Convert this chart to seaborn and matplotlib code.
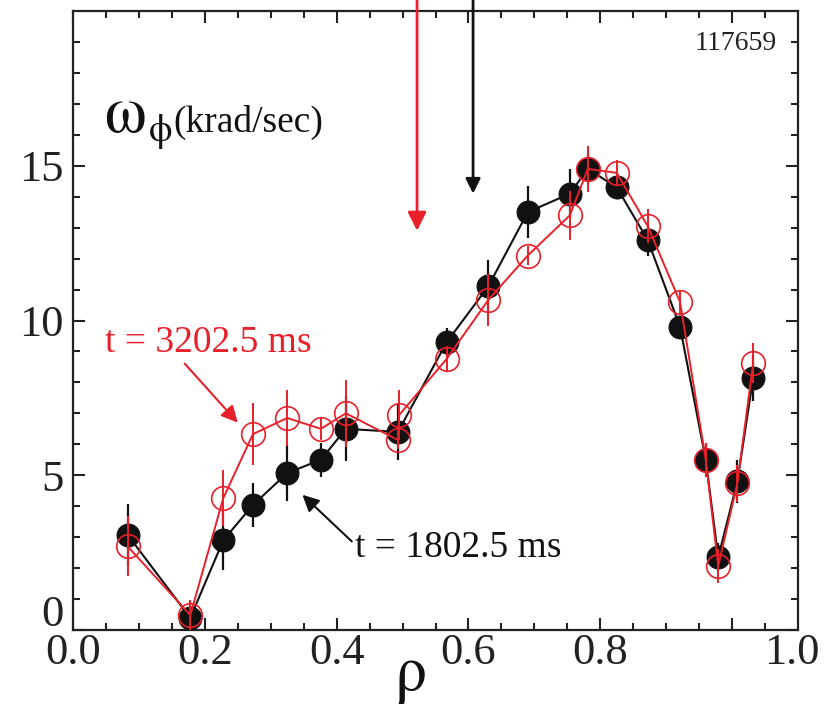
# -*- coding: utf-8 -*-
"""
Toroidal rotation profiles, shot 117659
"""

import matplotlib
matplotlib.use('Agg')
import matplotlib.pyplot as plt
from matplotlib.transforms import ScaledTranslation
import numpy as np
import pandas as pd
import seaborn as sns

# t = 1802.5 ms (black, filled)
rho_1802 = [0.083, 0.178, 0.228, 0.273, 0.325, 0.376, 0.414, 0.493, 0.567, 0.630,
            0.690, 0.754, 0.781, 0.825, 0.872, 0.921, 0.960, 0.979, 1.008, 1.032]
omega_1802 = [3.07, 0.39, 2.90, 4.04, 5.07, 5.50, 6.50, 6.40, 9.30, 11.10,
              13.50, 14.10, 14.90, 14.30, 12.60, 9.80, 5.50, 2.35, 4.80, 8.15]
err_1802 = [1.00, 0.50, 0.95, 0.70, 0.90, 0.55, 1.05, 0.90, 0.45, 0.85,
            0.85, 0.80, 0.50, 0.30, 0.50, 0.30, 0.55, 0.45, 0.70, 0.75]

# t = 3202.5 ms (red, open)
rho_3202 = [0.083, 0.178, 0.228, 0.273, 0.325, 0.376, 0.414, 0.493, 0.495, 0.567,
            0.630, 0.690, 0.754, 0.781, 0.825, 0.872, 0.921, 0.960, 0.979, 1.008, 1.032]
omega_3202 = [2.70, 0.48, 4.26, 6.33, 6.85, 6.50, 7.00, 6.14, 6.95, 8.76,
              10.66, 12.10, 13.40, 14.90, 14.77, 13.05, 10.60, 5.50, 2.07, 4.74, 8.62]
err_3202 = [0.97, 0.50, 0.90, 1.00, 0.90, 0.35, 1.08, 0.30, 0.80, 0.40,
            0.85, 0.30, 0.80, 0.75, 0.40, 0.55, 0.40, 0.55, 0.55, 0.60, 0.65]

red = '#e8202a'


def main():
    sns.set_style('ticks')
    plt.rcParams['font.family'] = ['Liberation Serif', 'DejaVu Serif']
    plt.rcParams['mathtext.fontset'] = 'stix'

    df_a = pd.DataFrame({'rho': rho_1802, 'omega': omega_1802, 'err': err_1802})
    df_b = pd.DataFrame({'rho': rho_3202, 'omega': omega_3202, 'err': err_3202})

    fig = plt.figure(figsize=(8.26, 7.09), dpi=100)
    ax = fig.add_axes([73 / 826, 79 / 709, 725 / 826, 619 / 709])

    # black profile
    ax.errorbar(df_a['rho'], df_a['omega'], yerr=df_a['err'], fmt='none',
                ecolor='#111111', elinewidth=1.6, capsize=0, zorder=2)
    sns.lineplot(data=df_a, x='rho', y='omega', sort=False, color='#111111',
                 lw=1.5, marker='o', markersize=16.5, markeredgecolor='#111111',
                 ax=ax, zorder=3)

    # red profile
    sns.lineplot(data=df_b, x='rho', y='omega', sort=False, color=red,
                 lw=1.4, marker='o', markersize=17, markerfacecolor='none',
                 markeredgecolor=red, markeredgewidth=1.2, ax=ax, zorder=4)
    ax.errorbar(df_b['rho'], df_b['omega'], yerr=df_b['err'], fmt='none',
                ecolor=red, elinewidth=1.4, capsize=0, zorder=5)

    ax.set_xlim(0, 1.1)
    ax.set_ylim(0, 20)
    ax.set_xticks([0.0, 0.2, 0.4, 0.6, 0.8, 1.0])
    ax.set_xticklabels(['0.0', '0.2', '0.4', '0.6', '0.8', '1.0'])
    ax.set_xticks(np.arange(0, 1.1, 0.05), minor=True)
    ax.set_yticks([0, 5, 10, 15])
    ax.set_yticklabels(['0', '5', '10', '15'])
    ax.set_yticks(np.arange(0, 20, 1), minor=True)
    ax.tick_params(which='both', direction='in', top=True, right=True,
                   width=1.5, colors='#222222', labelcolor='#222222')
    ax.tick_params(which='major', length=8.5, labelsize=32)
    ax.tick_params(axis='x', which='major', pad=2)
    ax.tick_params(axis='y', which='major', pad=7)
    ax.tick_params(which='minor', length=4.7)
    for s in ax.spines.values():
        s.set_linewidth(1.6)
        s.set_color('#222222')

    # shift the "0" and "1.0" labels where the original figure has them
    lab0 = ax.get_yticklabels()[0]
    lab0.set_transform(lab0.get_transform() + ScaledTranslation(0, 0.2, fig.dpi_scale_trans))
    lab1 = ax.get_xticklabels()[-1]
    lab1.set_transform(lab1.get_transform() + ScaledTranslation(0.6, 0, fig.dpi_scale_trans))

    ax.set_xlabel('')
    ax.set_ylabel('')
    fig.text(410 / 826, 0.045, r'$\mathrm{\rho}$', fontsize=46,
             ha='center', va='center', color='#111111')

    # axis title inside the frame
    ax.text(0.043, 0.805, r'$\mathrm{\omega}$', transform=ax.transAxes,
            fontsize=48, va='baseline', ha='left', color='#111111')
    ax.text(0.104, 0.79, r'$\mathrm{\phi}$', transform=ax.transAxes,
            fontsize=27, va='baseline', ha='left', color='#111111')
    ax.text(0.139, 0.805, '(krad/sec)', transform=ax.transAxes,
            fontsize=27, va='baseline', ha='left', color='#111111')
    ax.text(0.971, 0.948, '117659', transform=ax.transAxes,
            fontsize=20, va='center', ha='right', color='#222222')

    # time labels with arrows
    ax.annotate('t = 3202.5 ms', xy=(0.250, 6.7), xytext=(0.049, 9.27),
                fontsize=27, color=red, va='center', ha='left',
                arrowprops=dict(arrowstyle='-|>', color=red, lw=1.5,
                                mutation_scale=25, shrinkA=0, shrinkB=0,
                                relpos=(0.37, 0.0)))
    ax.annotate('t = 1802.5 ms', xy=(0.345, 4.43), xytext=(0.428, 2.65),
                fontsize=27, color='#111111', va='center', ha='left',
                arrowprops=dict(arrowstyle='-|>', color='#111111', lw=1.5,
                                mutation_scale=25, shrinkA=0, shrinkB=2,
                                relpos=(0.0, 0.6)))

    # vertical markers coming in from above the frame
    ax.annotate('', xy=(0.522, 12.9), xytext=(0.522, 20.4), annotation_clip=False,
                arrowprops=dict(arrowstyle='-|>', color=red, lw=2,
                                mutation_scale=28, shrinkA=0, shrinkB=0))
    ax.annotate('', xy=(0.607, 14.1), xytext=(0.607, 20.4), annotation_clip=False,
                arrowprops=dict(arrowstyle='-|>', color='#111111', lw=2,
                                mutation_scale=22, shrinkA=0, shrinkB=0))

    fig.savefig('out.png', dpi=100)


if __name__ == "__main__":
    main()
